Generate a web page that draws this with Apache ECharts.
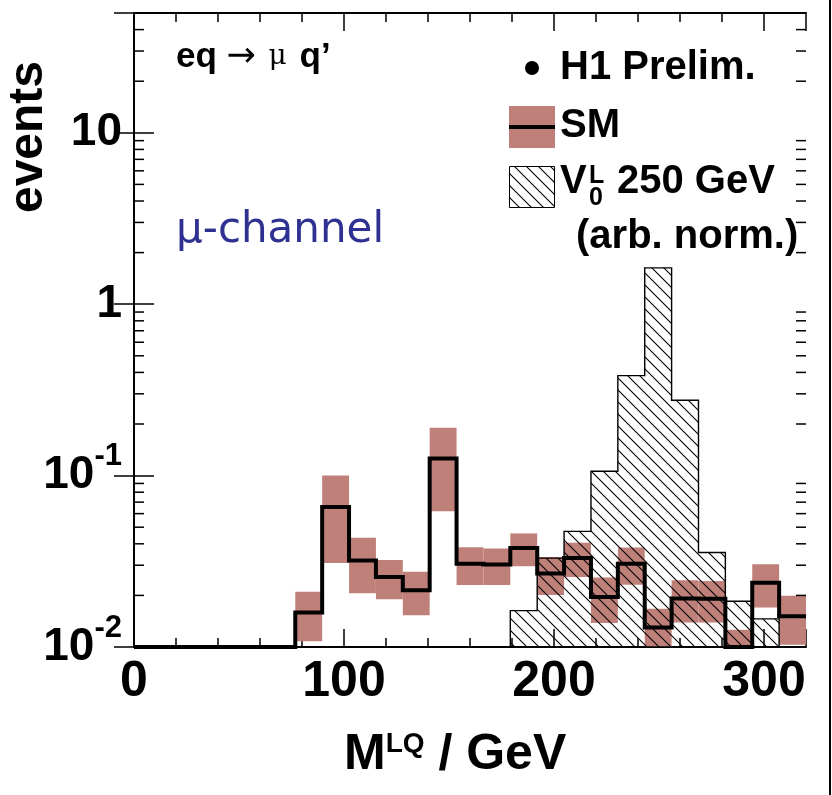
<!DOCTYPE html>
<html>
<head>
<meta charset="utf-8">
<title>M_LQ, mu-channel</title>
<script src="https://cdn.jsdelivr.net/npm/echarts@6/dist/echarts.min.js"></script>
<style>
html, body { margin: 0; padding: 0; background: #fff; }
#chart { width: 832px; height: 795px; }
</style>
</head>
<body>
<div id="chart"></div>
<script>
// binning: 25 bins of 12.8 GeV between 0 and 320
const binStart = 0;
const binWidth = 12.8;

// SM expectation per bin, with its (symmetric) uncertainty
const smValues = [0, 0, 0, 0, 0, 0, 0.0159, 0.0656, 0.032, 0.0256, 0.0214, 0.126, 0.0306, 0.0303,
  0.0378, 0.0268, 0.0331, 0.0196, 0.0306, 0.0130, 0.0192, 0.0191, 0.0097, 0.0237, 0.0151];
const smErrors = [0, 0, 0, 0, 0, 0, 0.0051, 0.0347, 0.0114, 0.0066, 0.0061, 0.064, 0.0076, 0.0073,
  0.0082, 0.0067, 0.0075, 0.0058, 0.0075, 0.0037, 0.0053, 0.0052, 0.0029, 0.0067, 0.0048];

// V0L 250 GeV signal (arb. norm.)
const signalValues = [0, 0, 0, 0, 0, 0, 0, 0, 0, 0, 0, 0, 0, 0,
  0.0163, 0.033, 0.0473, 0.106, 0.383, 1.63, 0.275, 0.0356, 0.0185, 0.0146, 0];

const xTickLabels = [0, 100, 200, 300];
const yTickLabels = [0.01, 0.1, 1, 10];

const xMin = 0, xMax = 320;
const yMin = 0.01, yMax = 50;

const FONT = '"Liberation Sans", Arial, Helvetica, sans-serif';
const bandColor = '#c0807a';

const edge = i => binStart + i * binWidth;
const clampY = v => Math.max(v, yMin);

// hatch tile "\\\"
const hatch = (() => {
  const s = 12;
  const c = document.createElement('canvas');
  c.width = s; c.height = s;
  const g = c.getContext('2d');
  g.strokeStyle = '#000';
  g.lineWidth = 1.1;
  g.beginPath();
  g.moveTo(-2, -2); g.lineTo(s + 2, s + 2);
  g.moveTo(-2, s - 2); g.lineTo(2, s + 2);
  g.moveTo(s - 2, -2); g.lineTo(s + 2, 2);
  g.stroke();
  return { image: c, repeat: 'repeat' };
})();

// minor ticks of the log axis (2..9 per decade)
const minorY = [];
for (let e = -2; e <= 1; e++) {
  for (let m = 2; m <= 9; m++) {
    const v = m * Math.pow(10, e);
    if (v < yMax) minorY.push(v);
  }
}

const chart = echarts.init(document.getElementById('chart'));

const xAxisBase = {
  type: 'value', min: xMin, max: xMax, gridIndex: 0,
  splitLine: { show: false },
  axisLabel: { show: false }
};
const yAxisBase = {
  type: 'log', logBase: 10, min: yMin, max: yMax, interval: 1,
  splitLine: { show: false },
  axisLabel: { show: false },
  axisLine: { show: true, lineStyle: { color: '#000', width: 2 } },
  axisTick: { show: true, inside: true, length: 20, lineStyle: { color: '#000', width: 1.5 } }
};

const option = {
  backgroundColor: '#fff',
  animation: false,
  grid: { left: 134, top: 13, width: 672, height: 634, show: false },
  xAxis: [
    Object.assign({}, xAxisBase, {
      position: 'bottom', interval: 100,
      axisLine: { show: true, onZero: false, lineStyle: { color: '#000', width: 2 } },
      axisTick: { inside: true, length: 18, lineStyle: { color: '#000', width: 1.5 } },
      axisLabel: {
        show: true, margin: 10, color: '#000',
        fontSize: 50, fontWeight: 'bold', fontFamily: FONT,
        formatter: v => (xTickLabels.includes(v) ? String(v) : '')
      }
    }),
    Object.assign({}, xAxisBase, {
      position: 'bottom', interval: 20,
      axisLine: { show: false, onZero: false },
      axisTick: { inside: true, length: 9, lineStyle: { color: '#000', width: 1.5 } }
    }),
    Object.assign({}, xAxisBase, {
      position: 'top', interval: 100,
      axisLine: { show: true, onZero: false, lineStyle: { color: '#000', width: 2 } },
      axisTick: { inside: true, length: 18, lineStyle: { color: '#000', width: 1.5 } }
    }),
    Object.assign({}, xAxisBase, {
      position: 'top', interval: 20,
      axisLine: { show: false, onZero: false },
      axisTick: { inside: true, length: 9, lineStyle: { color: '#000', width: 1.5 } }
    })
  ],
  yAxis: [
    Object.assign({}, yAxisBase, {
      position: 'left',
      axisLabel: {
        show: true, margin: 12, color: '#000',
        formatter: v => {
          const e = Math.round(Math.log10(v));
          if (Math.abs(Math.log10(v) - e) > 1e-6) return '';
          if (!yTickLabels.some(t => Math.abs(t - v) < 1e-9)) return '';
          if (e >= 0) return '{n|' + Math.pow(10, e) + '}';
          return '{n|10}{sup|' + e + '}';
        },
        rich: {
          n: { fontSize: 46, fontWeight: 'bold', fontFamily: FONT, color: '#000', lineHeight: 46 },
          sup: { fontSize: 31, fontWeight: 'bold', fontFamily: FONT, color: '#000', lineHeight: 30, padding: [0, 0, 38, 0] }
        }
      }
    }),
    Object.assign({}, yAxisBase, { position: 'right' })
  ],
  series: [
    {
      name: 'SM band',
      type: 'custom',
      z: 2,
      xAxisIndex: 0, yAxisIndex: 0,
      data: smValues.map((v, i) => [i, clampY(v - smErrors[i]), clampY(v + smErrors[i])]),
      renderItem: (params, api) => {
        const i = api.value(0);
        const lo = api.value(1), hi = api.value(2);
        if (hi <= yMin) return null;
        const p0 = api.coord([edge(i), hi]);
        const p1 = api.coord([edge(i + 1), lo]);
        return {
          type: 'rect',
          shape: { x: p0[0], y: p0[1], width: p1[0] - p0[0], height: p1[1] - p0[1] },
          style: { fill: bandColor }
        };
      }
    },
    {
      name: 'V0L 250 GeV',
      type: 'custom',
      z: 3,
      xAxisIndex: 0, yAxisIndex: 0,
      data: [[edge(14), yMin]],
      renderItem: (params, api) => {
        const idx = signalValues.map((v, i) => (v > 0 ? i : -1)).filter(i => i >= 0);
        const first = idx[0], last = idx[idx.length - 1];
        const pts = [api.coord([edge(first), yMin])];
        for (let i = first; i <= last; i++) {
          const y = clampY(signalValues[i]);
          pts.push(api.coord([edge(i), y]), api.coord([edge(i + 1), y]));
        }
        pts.push(api.coord([edge(last + 1), yMin]));
        return {
          type: 'polygon',
          shape: { points: pts },
          style: { fill: hatch, stroke: '#000', lineWidth: 1.4 }
        };
      }
    },
    {
      name: 'SM',
      type: 'custom',
      z: 4,
      xAxisIndex: 0, yAxisIndex: 0,
      data: [[0, yMin]],
      renderItem: (params, api) => {
        const pts = [];
        smValues.forEach((v, i) => {
          const y = clampY(v);
          pts.push(api.coord([edge(i), y]), api.coord([edge(i + 1), y]));
        });
        return {
          type: 'polyline',
          shape: { points: pts },
          style: { stroke: '#000', lineWidth: 4, fill: null, lineJoin: 'miter' }
        };
      }
    },
    {
      name: 'minor ticks',
      type: 'custom',
      z: 5,
      xAxisIndex: 0, yAxisIndex: 0,
      data: minorY.map(v => [xMin, v]),
      renderItem: (params, api) => {
        const v = api.value(1);
        const l = api.coord([xMin, v]);
        const r = api.coord([xMax, v]);
        return {
          type: 'group',
          children: [
            { type: 'line', shape: { x1: l[0], y1: l[1], x2: l[0] + 10, y2: l[1] }, style: { stroke: '#000', lineWidth: 1.5 } },
            { type: 'line', shape: { x1: r[0], y1: r[1], x2: r[0] - 10, y2: r[1] }, style: { stroke: '#000', lineWidth: 1.5 } }
          ]
        };
      }
    }
  ],
  graphic: [
    // axis titles
    {
      type: 'text', x: 29, y: 137, rotation: Math.PI / 2, z: 10,
      style: { text: 'events', font: 'bold 48px ' + FONT, fill: '#000', textAlign: 'center', textVerticalAlign: 'middle' }
    },
    {
      type: 'text', x: 344, y: 755, z: 10,
      style: {
        text: '{m|M}{s|LQ}{m| / GeV}',
        textAlign: 'left', textVerticalAlign: 'middle',
        rich: {
          m: { fontSize: 50, fontWeight: 'bold', fontFamily: FONT, fill: '#000', lineHeight: 50 },
          s: { fontSize: 28, fontWeight: 'bold', fontFamily: FONT, fill: '#000', verticalAlign: 'top', lineHeight: 28 }
        }
      }
    },
    // process label
    {
      type: 'text', x: 176, y: 57, z: 10,
      style: {
        text: '{b|eq }{a|\u2192}{g| }{m|\u03bc}{g| }{b|q\u2019}',
        textAlign: 'left', textVerticalAlign: 'middle',
        rich: {
          b: { fontSize: 35, fontWeight: 'bold', fontFamily: FONT, fill: '#000' },
          a: { fontSize: 35, fontFamily: '"DejaVu Sans", sans-serif', fill: '#000' },
          g: { fontSize: 40, fontFamily: '"DejaVu Sans", sans-serif', fill: '#000' },
          m: { fontSize: 28, fontFamily: '"DejaVu Serif", serif', fill: '#000' }
        }
      }
    },
    {
      type: 'text', x: 176, y: 231, z: 10,
      style: { text: '\u03bc-channel', font: '42px "DejaVu Sans", sans-serif', fill: '#2e3192', textAlign: 'left', textVerticalAlign: 'middle' }
    },
    // legend
    { type: 'circle', shape: { cx: 532, cy: 68, r: 7 }, style: { fill: '#000' }, z: 10 },
    {
      type: 'text', x: 560, y: 68, z: 10,
      style: { text: 'H1 Prelim.', font: 'bold 40px ' + FONT, fill: '#000', textAlign: 'left', textVerticalAlign: 'middle' }
    },
    { type: 'rect', shape: { x: 509, y: 106, width: 46, height: 42 }, style: { fill: bandColor }, z: 10 },
    { type: 'line', shape: { x1: 509, y1: 127, x2: 555, y2: 127 }, style: { stroke: '#000', lineWidth: 4 }, z: 11 },
    {
      type: 'text', x: 560, y: 126, z: 10,
      style: { text: 'SM', font: 'bold 40px ' + FONT, fill: '#000', textAlign: 'left', textVerticalAlign: 'middle' }
    },
    { type: 'rect', shape: { x: 509.5, y: 166.5, width: 45, height: 41 }, style: { fill: hatch, stroke: '#000', lineWidth: 1 }, z: 10 },
    {
      type: 'text', x: 560, y: 182, z: 10,
      style: { text: 'V', font: 'bold 40px ' + FONT, fill: '#000', textAlign: 'left', textVerticalAlign: 'middle' }
    },
    {
      type: 'text', x: 589, y: 164, z: 10,
      style: { text: 'L', font: 'bold 25px ' + FONT, fill: '#000', textAlign: 'left', textVerticalAlign: 'top' }
    },
    {
      type: 'text', x: 589, y: 211, z: 10,
      style: { text: '0', font: 'bold 25px ' + FONT, fill: '#000', textAlign: 'left', textVerticalAlign: 'bottom' }
    },
    {
      type: 'text', x: 617, y: 182, z: 10,
      style: { text: '250 GeV', font: 'bold 40px ' + FONT, fill: '#000', textAlign: 'left', textVerticalAlign: 'middle' }
    },
    {
      type: 'text', x: 576, y: 237, z: 10,
      style: { text: '(arb. norm.)', font: 'bold 40px ' + FONT, fill: '#000', textAlign: 'left', textVerticalAlign: 'middle' }
    },
    // frame edge on the right of the picture
    { type: 'line', shape: { x1: 830, y1: 0, x2: 830, y2: 795 }, style: { stroke: '#000', lineWidth: 2 }, z: 10 }
  ]
};

chart.setOption(option);
</script>
</body>
</html>
